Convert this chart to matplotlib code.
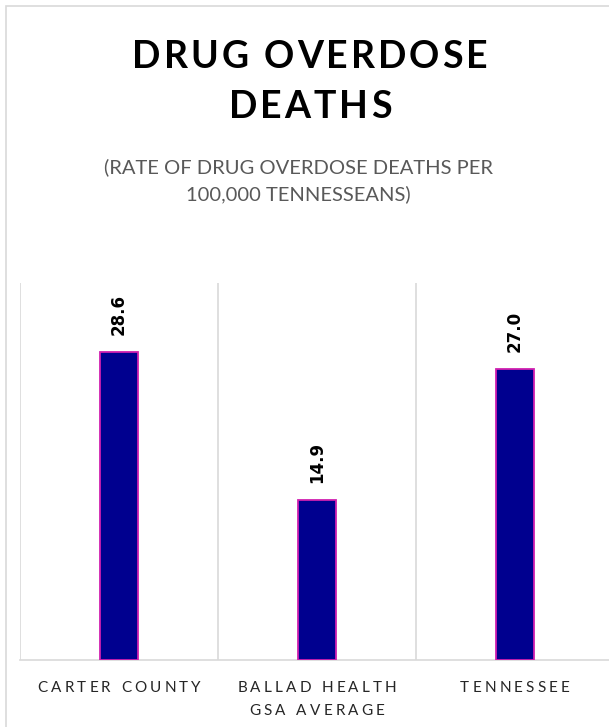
import numpy as np
import matplotlib
matplotlib.use("Agg")
import matplotlib.pyplot as plt
from matplotlib.patches import Rectangle

W, H = 609, 727
categories = ["CARTER COUNTY", "BALLAD HEALTH\nGSA AVERAGE", "TENNESSEE"]
rates = [28.6, 14.9, 27.0]
value_labels = ["28.6", "14.9", "27.0"]

fig = plt.figure(figsize=(W / 100, H / 100), dpi=100)
renderer = fig.canvas.get_renderer()

# outer chart frame (Excel chart area border)
fig.patches.append(Rectangle((6 / W, -0.01), 1.02, (H - 6) / H + 0.01, transform=fig.transFigure,
                             fill=False, edgecolor="#d9d9d9", lw=1.2))


def spaced_text(x_px, y_px, s, spacing, **kw):
    """Draw letter-spaced text centred at (x_px, y_px) in pixel coords (from top)."""
    chars = []
    widths = []
    for ch in s:
        t = fig.text(0, 0, ch if ch != " " else "\u00a0", **kw)
        w = t.get_window_extent(renderer).width if ch != " " else None
        if ch == " ":
            t2 = fig.text(0, 0, "a a", **kw)
            t3 = fig.text(0, 0, "aa", **kw)
            w = t2.get_window_extent(renderer).width - t3.get_window_extent(renderer).width
            t2.remove(); t3.remove()
        chars.append(t)
        widths.append(w)
    total = sum(widths) + spacing * (len(s) - 1)
    x = x_px - total / 2
    for t, w in zip(chars, widths):
        t.set_position((x / W, 1 - y_px / H))
        t.set_ha("left")
        t.set_va("center")
        x += w + spacing


title_kw = dict(fontsize=27, fontweight="bold", family="Lato", color="black")
spaced_text(310, 57, "DRUG OVERDOSE", 3.0, **title_kw)
spaced_text(310, 107, "DEATHS", 3.0, **title_kw)

sub_kw = dict(fontsize=14.5, family="Lato", color="#595959", ha="center", va="center")
fig.text(298 / W, 1 - 167 / H, "(RATE OF DRUG OVERDOSE DEATHS PER", **sub_kw)
fig.text(298 / W, 1 - 194 / H, "100,000 TENNESSEANS)", **sub_kw)

# plot area
left, right, top, bottom = 20, 614, 283, 660
ax = fig.add_axes([left / W, 1 - bottom / H, (right - left) / W, (bottom - top) / H])
x = np.arange(len(categories))
ax.bar(x, rates, width=0.19, color="#00008f", edgecolor="#d020b0", linewidth=1.3, zorder=3)
ax.set_xlim(-0.5, 2.5)
ax.set_ylim(0, 35)
for xi, v, lab in zip(x, rates, value_labels):
    ax.annotate(lab, (xi, v), xytext=(0, 17), textcoords="offset pixels", rotation=90,
                ha="center", va="bottom", fontsize=12, fontweight="bold", color="black")

for b in [-0.5, 0.5, 1.5, 2.5]:
    ax.axvline(b, color="#d9d9d9", lw=1.2, zorder=1)
for s in ["top", "right", "left"]:
    ax.spines[s].set_visible(False)
ax.spines["bottom"].set_color("#d9d9d9")
ax.spines["bottom"].set_linewidth(1.2)
ax.set_xticks([])
ax.set_yticks([])

# category labels, letter-spaced
lab_kw = dict(fontsize=11, family="Lato", color="#262626")
centers = ax.transData.transform(np.column_stack([x, np.zeros(len(x))]))[:, 0]
for cx, cat in zip(centers, categories):
    for k, line in enumerate(cat.split("\n")):
        spaced_text(cx, 688 + 23 * k, line, 3.2, **lab_kw)

fig.savefig("out.png", dpi=100)
